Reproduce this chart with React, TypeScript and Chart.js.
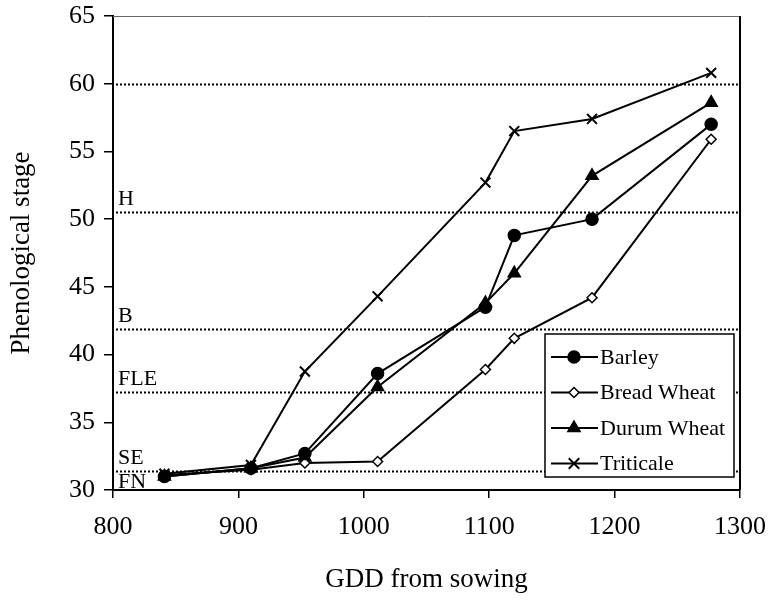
import React, { useEffect, useRef } from "react";
import { Chart, registerables } from "chart.js";

Chart.register(...registerables);

const gdd = [841, 910, 953, 1011, 1097, 1120, 1182, 1277];
const barley = [31.0, 31.6, 32.7, 38.6, 43.5, 48.8, 50.0, 57.0];
const breadWheat = [31.1, 31.5, 32.0, 32.1, 38.9, 41.2, 44.2, 55.9];
const durumWheat = [31.0, 31.6, 32.4, 37.6, 43.8, 46.0, 53.2, 58.6];
const triticale = [31.2, 31.85, 38.75, 44.3, 52.7, 56.5, 57.4, 60.8];

const stageValues = [60, 50.5, 41.9, 37.2, 31.4];
const stageAbove = ["", "H", "B", "FLE", "SE"];
const stageBelow = ["", "", "", "", "FN"];

const seriesNames = ["Barley", "Bread Wheat", "Durum Wheat", "Triticale"];
const seriesValues = [barley, breadWheat, durumWheat, triticale];
const seriesMarkers = ["circle", "rectRot", "triangle", "crossRot"];
const markerRadius = [6, 5, 7, 7];
const markerFill = ["#000", "#fff", "#000", "#000"];

const FONT = "'Liberation Serif', 'Times New Roman', serif";

function drawMarker(ctx: CanvasRenderingContext2D, style: string, x: number, y: number, r: number, fill: string) {
  ctx.save();
  ctx.fillStyle = fill;
  ctx.strokeStyle = "#000";
  ctx.lineWidth = style === "crossRot" ? 2 : 1.5;
  ctx.beginPath();
  if (style === "circle") {
    ctx.arc(x, y, r, 0, Math.PI * 2);
    ctx.fill();
    ctx.stroke();
  } else if (style === "rectRot") {
    ctx.moveTo(x, y - r);
    ctx.lineTo(x + r, y);
    ctx.lineTo(x, y + r);
    ctx.lineTo(x - r, y);
    ctx.closePath();
    ctx.fill();
    ctx.stroke();
  } else if (style === "triangle") {
    const h = r * 1.5;
    ctx.moveTo(x, y - h * 0.66);
    ctx.lineTo(x + r * 0.87, y + h * 0.34);
    ctx.lineTo(x - r * 0.87, y + h * 0.34);
    ctx.closePath();
    ctx.fill();
    ctx.stroke();
  } else {
    const d = r * 0.75;
    ctx.moveTo(x - d, y - d);
    ctx.lineTo(x + d, y + d);
    ctx.moveTo(x + d, y - d);
    ctx.lineTo(x - d, y + d);
    ctx.stroke();
  }
  ctx.restore();
}

const overlayPlugin = {
  id: "overlay",
  beforeDatasetsDraw(chart: any) {
    const { ctx, chartArea } = chart;
    const y = chart.scales.y;
    ctx.save();
    ctx.strokeStyle = "#666";
    ctx.lineWidth = 1;
    ctx.beginPath();
    ctx.moveTo(chartArea.left, chartArea.top + 0.5);
    ctx.lineTo(chartArea.right, chartArea.top + 0.5);
    ctx.stroke();
    ctx.strokeStyle = "#000";
    ctx.lineWidth = 2;
    ctx.beginPath();
    ctx.moveTo(chartArea.right, chartArea.top);
    ctx.lineTo(chartArea.right, chartArea.bottom);
    ctx.stroke();

    ctx.font = `22px ${FONT}`;
    ctx.fillStyle = "#000";
    stageValues.forEach((v, i) => {
      const py = Math.round(y.getPixelForValue(v)) + 0.5;
      ctx.setLineDash([2, 2]);
      ctx.strokeStyle = "#000";
      ctx.lineWidth = 2;
      ctx.beginPath();
      ctx.moveTo(chartArea.left + 3, py);
      ctx.lineTo(chartArea.right - 2, py);
      ctx.stroke();
      ctx.setLineDash([]);
      if (stageAbove[i]) {
        ctx.textBaseline = "bottom";
        ctx.textAlign = "left";
        ctx.fillText(stageAbove[i], chartArea.left + 5, py - 2);
      }
      if (stageBelow[i]) {
        ctx.textBaseline = "top";
        ctx.textAlign = "left";
        ctx.fillText(stageBelow[i], chartArea.left + 5, py);
      }
    });
    ctx.restore();
  },
  afterDatasetsDraw(chart: any) {
    const { ctx, chartArea } = chart;
    const boxRight = chartArea.right - 6;
    const boxLeft = boxRight - 189;
    const boxTop = 334;
    const rowH = 35.5;
    const boxBottom = 477;
    ctx.save();
    ctx.fillStyle = "#fff";
    ctx.fillRect(boxLeft, boxTop, boxRight - boxLeft, boxBottom - boxTop);
    ctx.strokeStyle = "#000";
    ctx.lineWidth = 1.5;
    ctx.strokeRect(boxLeft, boxTop, boxRight - boxLeft, boxBottom - boxTop);
    ctx.font = `22px ${FONT}`;
    ctx.textBaseline = "middle";
    ctx.textAlign = "left";
    seriesNames.forEach((name, i) => {
      const cy = boxTop + 23 + i * rowH;
      ctx.strokeStyle = "#000";
      ctx.lineWidth = 2;
      ctx.beginPath();
      ctx.moveTo(boxLeft + 6, cy);
      ctx.lineTo(boxLeft + 53, cy);
      ctx.stroke();
      drawMarker(ctx, seriesMarkers[i], boxLeft + 29, cy, markerRadius[i], markerFill[i]);
      ctx.fillStyle = "#000";
      ctx.fillText(name, boxLeft + 55, cy + 1);
    });
    ctx.restore();
  },
};

export default function App() {
  const ref = useRef<HTMLCanvasElement>(null);
  useEffect(() => {
    if (!ref.current) return;
    const datasets = seriesNames.map((name, i) => ({
      label: name,
      data: gdd.map((g, j) => ({ x: g, y: seriesValues[i][j] })),
      borderColor: "#000",
      borderWidth: 2,
      backgroundColor: markerFill[i],
      pointStyle: seriesMarkers[i] as any,
      pointRadius: markerRadius[i],
      pointBorderColor: "#000",
      pointBackgroundColor: markerFill[i],
      pointBorderWidth: seriesMarkers[i] === "crossRot" ? 2 : 1.5,
      tension: 0,
      fill: false,
    }));
    const chart = new Chart(ref.current, {
      type: "line",
      data: { datasets },
      options: {
        animation: false,
        responsive: false,
        maintainAspectRatio: false,
        layout: { padding: { top: 16, right: 29, left: 0, bottom: 0 } },
        plugins: { legend: { display: false }, tooltip: { enabled: false } },
        scales: {
          x: {
            type: "linear",
            min: 800,
            max: 1300,
            afterFit: (s: any) => {
              s.height = 111;
              s.paddingLeft = 0;
              s.paddingRight = 0;
            },
            border: { color: "#000", width: 2 },
            grid: { display: true, drawOnChartArea: false, drawTicks: true, tickLength: 8, color: "#000", lineWidth: 1.5 },
            ticks: {
              stepSize: 100,
              color: "#000",
              font: { family: FONT, size: 26 },
              padding: 14,
              maxRotation: 0,
              callback: (v: any) => String(v),
            },
            title: { display: true, text: "GDD from sowing", color: "#000", font: { family: FONT, size: 27 }, padding: { top: 0, bottom: 5 } },
          },
          y: {
            min: 30,
            max: 65,
            afterFit: (s: any) => {
              s.width = 113;
              s.paddingTop = 0;
              s.paddingBottom = 0;
            },
            border: { color: "#000", width: 2 },
            grid: { display: true, drawOnChartArea: false, drawTicks: true, tickLength: 9, color: "#000", lineWidth: 1.5 },
            ticks: { stepSize: 5, color: "#000", font: { family: FONT, size: 26 }, padding: 9, callback: (v: any) => String(v) },
            title: { display: true, text: "Phenological stage", color: "#000", font: { family: FONT, size: 27 }, padding: { top: 6, bottom: 0 } },
          },
        },
      },
      plugins: [overlayPlugin],
    });
    return () => chart.destroy();
  }, []);
  return (
    <div style={{ position: "absolute", left: 0, top: 0, width: 769, height: 601, background: "#fff" }}>
      <canvas ref={ref} width={769} height={601} style={{ width: 769, height: 601, display: "block" }} />
    </div>
  );
}
